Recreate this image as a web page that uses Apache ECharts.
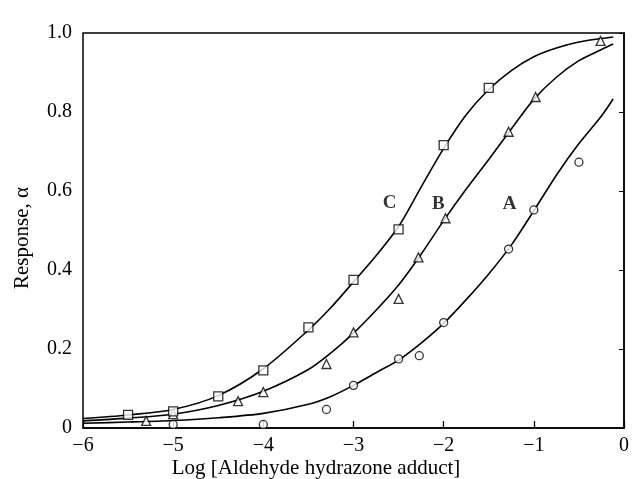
<!DOCTYPE html>
<html>
<head>
<meta charset="utf-8">
<script src="https://cdn.jsdelivr.net/npm/echarts@6/dist/echarts.min.js"></script>
<style>
  html, body { margin: 0; padding: 0; background: #fff; }
  #chart { width: 632px; height: 479px; }
</style>
</head>
<body>
<div id="chart"></div>
<script>
// Measured responses (circles = A, triangles = B, squares = C)
const pointsA = [[-5, 0.009], [-4, 0.009], [-3.3, 0.047], [-3, 0.108], [-2.5, 0.175],
                 [-2.27, 0.183], [-2, 0.267], [-1.28, 0.453], [-1, 0.552], [-0.5, 0.673]];
const pointsB = [[-5.3, 0.018], [-5, 0.035], [-4.28, 0.068], [-4, 0.091], [-3.3, 0.162],
                 [-3, 0.242], [-2.5, 0.327], [-2.28, 0.432], [-1.98, 0.531], [-1.28, 0.75],
                 [-0.98, 0.838], [-0.26, 0.98]];
const pointsC = [[-5.5, 0.033], [-5, 0.042], [-4.5, 0.08], [-4, 0.146], [-3.5, 0.255],
                 [-3, 0.375], [-2.5, 0.503], [-2, 0.716], [-1.5, 0.861]];

// Fitted response curves, sampled along log concentration
const curveX = [-6, -5.5, -5, -4.5, -4, -3.5, -3.25, -3, -2.75, -2.5, -2.25, -2, -1.75, -1.5,
                -1.25, -1, -0.75, -0.5, -0.25, -0.12];
const curveA = [0.012, 0.015, 0.019, 0.026, 0.037, 0.06, 0.08, 0.108, 0.14, 0.172, 0.215, 0.265,
                0.325, 0.39, 0.463, 0.55, 0.64, 0.72, 0.79, 0.833];
const curveB = [0.018, 0.025, 0.035, 0.057, 0.093, 0.148, 0.19, 0.24, 0.298, 0.362, 0.44, 0.525,
                0.605, 0.68, 0.757, 0.832, 0.888, 0.93, 0.958, 0.972];
const curveC = [0.024, 0.033, 0.047, 0.082, 0.15, 0.248, 0.305, 0.37, 0.436, 0.51, 0.61, 0.708,
                0.793, 0.857, 0.905, 0.94, 0.962, 0.977, 0.986, 0.99];

// Curve labels
const curveNames = ['C', 'B', 'A'];
const curveNamePos = [[-2.6, 0.57], [-2.06, 0.566], [-1.27, 0.566]];

const xTitle = 'Log [Aldehyde hydrazone adduct]';
const yTitle = 'Response, \u03b1';

const FONT = '"Liberation Serif", "DejaVu Serif", serif';

function zip(xs, ys) { return xs.map((x, i) => [x, ys[i]]); }

function lineSeries(xs, ys) {
  return {
    type: 'line', data: zip(xs, ys), smooth: 0.3, showSymbol: false, silent: true,
    lineStyle: { color: '#000', width: 1.6 }, z: 2
  };
}

function pointSeries(data, symbol, size) {
  return {
    type: 'scatter', data: data, symbol: symbol, symbolSize: size, silent: true,
    itemStyle: { color: '#fff', borderColor: '#000', borderWidth: 1.3 }, z: 5
  };
}

const chart = echarts.init(document.getElementById('chart'), null, { renderer: 'canvas' });

chart.setOption({
  animation: false,
  backgroundColor: '#fff',
  grid: { left: 83, right: 8, top: 33, bottom: 51, show: true, borderColor: '#000', borderWidth: 1.5 },
  xAxis: {
    type: 'value', min: -6, max: 0, interval: 1,
    axisLine: { onZero: false, lineStyle: { color: '#000', width: 1.5 } },
    axisTick: { inside: true, length: 7, lineStyle: { color: '#000', width: 1.3 } },
    axisLabel: {
      fontFamily: FONT, fontSize: 20, color: '#000', margin: 8,
      formatter: v => (v < 0 ? '\u2212' + Math.abs(v) : String(v))
    },
    splitLine: { show: false }
  },
  yAxis: {
    type: 'value', min: 0, max: 1, interval: 0.2,
    axisLine: { lineStyle: { color: '#000', width: 1.5 } },
    axisTick: { inside: false, length: 5, lineStyle: { color: '#000', width: 1 } },
    axisLabel: {
      fontFamily: FONT, fontSize: 20, color: '#000', margin: 11,
      formatter: v => (v === 0 ? '0' : v.toFixed(1))
    },
    splitLine: { show: false }
  },
  graphic: [
    {
      type: 'text', left: 'center', top: 458, z: 10,
      style: { text: xTitle, font: '21px ' + FONT, fill: '#000', x: -18 }
    },
    {
      type: 'text', x: 12, y: 238, rotation: Math.PI / 2, z: 10,
      style: { text: yTitle, font: '21px ' + FONT, fill: '#000', align: 'center', verticalAlign: 'top' }
    }
  ],
  series: [
    lineSeries(curveX, curveA),
    lineSeries(curveX, curveB),
    lineSeries(curveX, curveC),
    pointSeries(pointsA, 'circle', 8),
    pointSeries(pointsB, 'triangle', 9),
    pointSeries(pointsC, 'rect', 9),
    {
      type: 'scatter', symbolSize: 0, silent: true, z: 6,
      data: curveNamePos.map((p, i) => ({ value: p, name: curveNames[i] })),
      label: {
        show: true, position: 'inside', formatter: '{b}',
        fontFamily: FONT, fontSize: 19, fontWeight: 'bold', color: '#000'
      }
    }
  ]
});
</script>
</body>
</html>
